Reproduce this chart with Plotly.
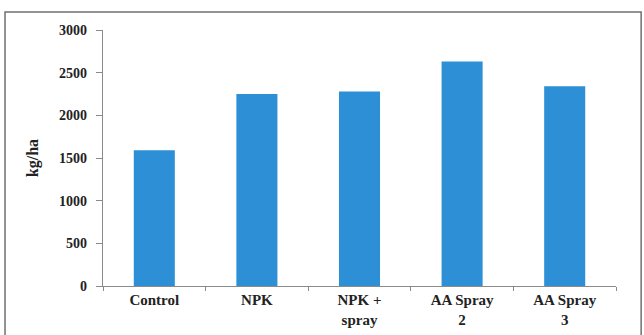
import plotly.graph_objects as go

# Yield per treatment (kg/ha)
treatments = ["Control", "NPK", "NPK +<br>spray", "AA Spray<br>2", "AA Spray<br>3"]
yield_kg_ha = [1590, 2250, 2280, 2630, 2340]
y_ticks = [0, 500, 1000, 1500, 2000, 2500, 3000]

BAR = "#2d8fd5"
AXIS = "#8a8a8a"
SERIF = "Liberation Serif"

fig = go.Figure(
    go.Bar(
        x=treatments,
        y=yield_kg_ha,
        marker=dict(color=BAR, line=dict(width=0)),
    )
)

fig.update_layout(
    width=644,
    height=335,
    margin=dict(l=103, r=28, t=30, b=49),
    paper_bgcolor="white",
    plot_bgcolor="white",
    bargap=0.6,
    showlegend=False,
    font=dict(family=SERIF, color="#222"),
    shapes=[
        # frame around the figure panel
        dict(
            type="rect", xref="paper", yref="paper",
            x0=-0.191, x1=1.049, y0=-0.35, y1=1.07,
            line=dict(color="#707070", width=1.5),
            fillcolor="rgba(0,0,0,0)", layer="below",
        )
    ],
)

fig.update_xaxes(
    type="category", automargin=False,
    showline=True, linecolor=AXIS, linewidth=1.2,
    ticks="outside", tickson="boundaries", ticklen=4, tickcolor=AXIS,
    tickfont=dict(family=SERIF, size=15, color="#222"),
    tickvals=treatments, ticktext=["<b>%s</b>" % t for t in treatments],
    showgrid=False, zeroline=False,
)

fig.update_yaxes(
    range=[0, 3000], automargin=False,
    tickmode="array", tickvals=y_ticks, ticktext=["<b>%d</b>" % v for v in y_ticks],
    showline=True, linecolor=AXIS, linewidth=1.2,
    ticks="outside", ticklen=6, tickcolor=AXIS, ticklabelstandoff=6,
    tickfont=dict(family=SERIF, size=14, color="#222"),
    showgrid=False, zeroline=False,
    title=dict(text="<b>kg/ha</b>", font=dict(family=SERIF, size=16, color="#222"), standoff=16),
)

fig.write_html("out.html")
